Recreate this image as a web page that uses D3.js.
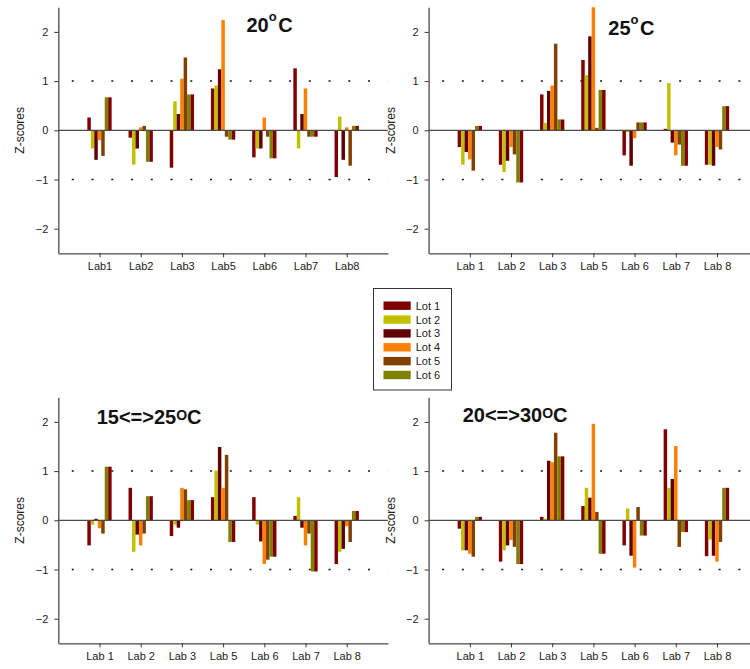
<!DOCTYPE html>
<html>
<head>
<meta charset="utf-8">
<script src="https://cdn.jsdelivr.net/npm/d3@7"></script>
<style>
  body { margin: 0; background: #fff; }
  svg { display: block; font-family: Arial, "Liberation Sans", sans-serif; }
</style>
</head>
<body>
<svg></svg>
<script>
///////////////////////////////////////////
// Data
var lotNames = ["Lot 1", "Lot 2", "Lot 3", "Lot 4", "Lot 5", "Lot 6"];
var lotColors = ["#800000", "#c0c000", "#600000", "#ff8000", "#804000", "#808000", "#800000"];

var labsPlain = ["Lab1", "Lab2", "Lab3", "Lab5", "Lab6", "Lab7", "Lab8"];
var labsSpaced = ["Lab 1", "Lab 2", "Lab 3", "Lab 5", "Lab 6", "Lab 7", "Lab 8"];
var yTicks = [-2, -1, 0, 1, 2];

// one row per bar in a group (Lot 1..6, then the extra trailing bar), one column per lab
var z20 = [
  [0.26, -0.15, -0.76, 0.85, -0.55, 1.26, -0.95],
  [-0.37, -0.70, 0.59, 0.91, -0.37, -0.37, 0.28],
  [-0.60, -0.37, 0.33, 1.24, -0.37, 0.33, -0.60],
  [-0.20, 0.06, 1.05, 2.24, 0.26, 0.85, 0.06],
  [-0.52, 0.09, 1.48, -0.13, -0.13, -0.13, -0.72],
  [0.67, -0.64, 0.73, -0.19, -0.57, -0.13, 0.09],
  [0.67, -0.64, 0.73, -0.19, -0.57, -0.13, 0.09]
];
var z25 = [
  [-0.34, -0.70, 0.73, 1.43, -0.51, 0.03, -0.70],
  [-0.70, -0.85, 0.15, 1.12, -0.04, 0.96, -0.70],
  [-0.44, -0.62, 0.80, 1.91, -0.72, -0.25, -0.72],
  [-0.59, -0.34, 0.91, 2.60, -0.16, -0.51, -0.34],
  [-0.82, -0.49, 1.76, 0.05, 0.16, -0.29, -0.39],
  [0.09, -1.06, 0.22, 0.82, 0.16, -0.72, 0.49],
  [0.09, -1.06, 0.22, 0.82, 0.16, -0.72, 0.49]
];
var z15_25 = [
  [-0.51, 0.66, -0.32, 0.47, 0.47, 0.09, -0.89],
  [-0.09, -0.64, -0.09, 1.01, -0.09, 0.47, -0.64],
  [0.03, -0.29, -0.15, 1.49, -0.43, -0.15, -0.58],
  [-0.16, -0.51, 0.66, 0.66, -0.89, -0.51, -0.12],
  [-0.27, -0.27, 0.63, 1.33, -0.80, -0.27, -0.44],
  [1.09, 0.49, 0.41, -0.44, -0.74, -1.04, 0.19],
  [1.09, 0.49, 0.41, -0.44, -0.74, -1.04, 0.19]
];
var z20_30 = [
  [-0.17, -0.84, 0.07, 0.29, -0.51, 1.85, -0.73],
  [-0.61, -0.61, 0.03, 0.66, 0.24, 0.66, -0.39],
  [-0.61, -0.51, 1.21, 0.46, -0.72, 0.84, -0.72],
  [-0.68, -0.40, 1.18, 1.96, -0.96, 1.51, -0.84],
  [-0.74, -0.54, 1.78, 0.17, 0.27, -0.54, -0.44],
  [0.07, -0.89, 1.30, -0.68, -0.31, -0.24, 0.66],
  [0.07, -0.89, 1.30, -0.68, -0.31, -0.24, 0.66]
];

///////////////////////////////////////////
// Layout
var svgWidth = 750, svgHeight = 669;
var step = 41.2,          // distance between lab ticks
    unit = 49.2,          // pixels per z unit
    groupWidth = 24.3;

var svg = d3.select("svg").attr("width", svgWidth).attr("height", svgHeight);

var panels = [
  {id: "p1", x0: 58.3, zero: 130.3, labs: labsPlain, values: z20,
   title: ["20", "o", "C"], tx: 246.5, ty: 31.7, sup: "small", zx: 20},
  {id: "p2", x0: 428.6, zero: 130.3, labs: labsSpaced, values: z25,
   title: ["25", "o", "C"], tx: 608.3, ty: 35, sup: "small", zx: 391},
  {id: "p3", x0: 58.3, zero: 520.3, labs: labsSpaced, values: z15_25,
   title: ["15<=>25", "O", "C"], tx: 96.7, ty: 424.3, sup: "big", zx: 20},
  {id: "p4", x0: 428.6, zero: 520.3, labs: labsSpaced, values: z20_30,
   title: ["20<=>30", "O", "C"], tx: 462.7, ty: 421.7, sup: "big", zx: 391}
];

panels.forEach(drawPanel);
drawLegend();

function drawPanel(p) {
  var x = d3.scaleLinear().domain([0, 8]).range([p.x0, p.x0 + 8 * step]);
  var y = d3.scaleLinear().domain([-2.5, 2.5]).range([p.zero + 2.5 * unit, p.zero - 2.5 * unit]);
  var inner = d3.scaleBand().domain(d3.range(7)).range([-groupWidth / 2, groupWidth / 2]).padding(0);

  var g = svg.append("g").attr("class", "panel " + p.id);

  g.append("clipPath").attr("id", "clip-" + p.id)
    .append("rect")
    .attr("x", p.x0).attr("y", y(2.5))
    .attr("width", 8 * step).attr("height", y(-2.5) - y(2.5));

  // dotted reference lines at +/-1
  g.selectAll("line.ref").data([1, -1]).enter().append("line")
    .attr("class", "ref")
    .attr("x1", p.x0 + 13.5).attr("x2", x(8))
    .attr("y1", function(d){ return y(d); }).attr("y2", function(d){ return y(d); })
    .attr("stroke", "#111").attr("stroke-width", 1.5)
    .attr("stroke-dasharray", "2,17.75");

  // bars
  var bars = [];
  p.values.forEach(function(row, s){
    row.forEach(function(v, i){ bars.push({s: s, i: i, v: v}); });
  });
  g.append("g").attr("clip-path", "url(#clip-" + p.id + ")")
    .selectAll("rect").data(bars).enter().append("rect")
    .attr("x", function(d){ return x(d.i + 1) + inner(d.s); })
    .attr("width", inner.bandwidth())
    .attr("y", function(d){ return y(Math.max(0, d.v)); })
    .attr("height", function(d){ return Math.abs(y(d.v) - y(0)); })
    .attr("fill", function(d){ return lotColors[d.s]; });

  // zero line
  g.append("line")
    .attr("x1", p.x0).attr("x2", x(8))
    .attr("y1", y(0)).attr("y2", y(0))
    .attr("stroke", "#4a4a4a").attr("stroke-width", 1.3);

  // x axis
  var xAxis = d3.axisBottom(x)
    .tickValues(d3.range(1, 8))
    .tickFormat(function(d){ return p.labs[d - 1]; })
    .tickSize(4).tickSizeOuter(0).tickPadding(5);
  var gx = g.append("g").attr("transform", "translate(0," + y(-2.5) + ")").call(xAxis);
  gx.select(".domain").attr("stroke", "#4a4a4a").attr("stroke-width", 1.3);
  gx.selectAll(".tick line").attr("stroke", "#333");
  gx.selectAll("text").attr("fill", "#222").style("font-size", "11px")
    .style("font-family", "Arial, 'Liberation Sans', sans-serif");

  // y axis
  var yAxis = d3.axisLeft(y).tickValues(yTicks).tickFormat(d3.format("d"))
    .tickSize(4).tickSizeOuter(0).tickPadding(6);
  var gy = g.append("g").attr("transform", "translate(" + p.x0 + ",0)").call(yAxis);
  gy.select(".domain").attr("stroke", "#4a4a4a").attr("stroke-width", 1.3);
  gy.selectAll(".tick line").attr("stroke", "#333");
  gy.selectAll("text").attr("fill", "#222").style("font-size", "11px")
    .style("font-family", "Arial, 'Liberation Sans', sans-serif");

  // y label
  g.append("text")
    .attr("transform", "translate(" + (p.zx + 4) + "," + p.zero + ") rotate(-90)")
    .attr("text-anchor", "middle")
    .attr("fill", "#222")
    .style("font-size", "12px")
    .text("Z-scores");

  // title
  var t = g.append("text")
    .attr("x", p.tx).attr("y", p.ty)
    .attr("fill", "#111")
    .style("font-size", "20px").style("font-weight", "bold");
  t.append("tspan").text(p.title[0]);
  if (p.sup === "small") {
    t.append("tspan").attr("dy", -11).style("font-size", "13px").text(p.title[1]);
    t.append("tspan").attr("dy", 11).attr("dx", 1.5).text(p.title[2]);
  } else {
    t.append("tspan").attr("dy", -4).style("font-size", "14px").text(p.title[1]);
    t.append("tspan").attr("dy", 4).text(p.title[2]);
  }
}

function drawLegend() {
  var lg = svg.append("g").attr("class", "legend");
  lg.append("rect")
    .attr("x", 373.5).attr("y", 288.5)
    .attr("width", 78).attr("height", 101.5)
    .attr("fill", "#fff").attr("stroke", "#333").attr("stroke-width", 1);

  var rowY = d3.scaleLinear().domain([0, 5]).range([305.7, 375]);
  var items = lg.selectAll("g.item").data(lotNames).enter().append("g")
    .attr("class", "item")
    .attr("transform", function(d, i){ return "translate(0," + rowY(i) + ")"; });
  items.append("rect")
    .attr("x", 383.5).attr("y", -4.2)
    .attr("width", 27.2).attr("height", 8.4)
    .attr("fill", function(d, i){ return lotColors[i]; });
  items.append("text")
    .attr("x", 415.7).attr("y", 4)
    .attr("fill", "#222")
    .style("font-size", "11px")
    .text(function(d){ return d; });
}
</script>
</body>
</html>
